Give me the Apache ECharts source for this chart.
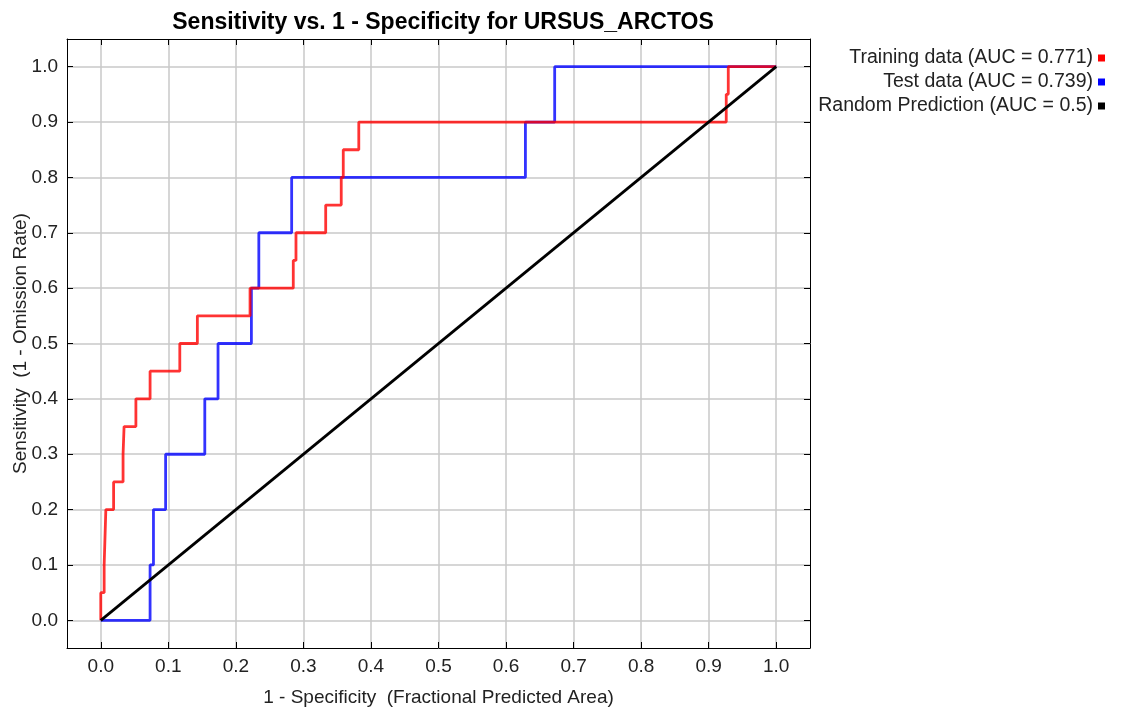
<!DOCTYPE html>
<html>
<head>
<meta charset="utf-8">
<title>Sensitivity vs. 1 - Specificity for URSUS_ARCTOS</title>
<script src="https://cdn.jsdelivr.net/npm/echarts@6.0.0/dist/echarts.min.js"></script>
<style>
  html, body { margin: 0; padding: 0; background: #fff; }
  #chart { width: 1123px; height: 707px; }
</style>
</head>
<body>
<div id="chart"></div>
<script>
// ROC curve points (x = 1 - specificity, y = sensitivity)
const trainFpr = [0, 0, 0.005, 0.005, 0.0075, 0.0075, 0.019, 0.019, 0.033, 0.033, 0.0345, 0.0345,
  0.052, 0.052, 0.073, 0.073, 0.117, 0.117, 0.143, 0.143, 0.221, 0.221, 0.285, 0.285, 0.289, 0.289,
  0.333, 0.333, 0.356, 0.356, 0.359, 0.359, 0.382, 0.382, 0.926, 0.926, 0.929, 0.929, 1.0];
const trainTpr = [0, 0.05, 0.05, 0.1, 0.1, 0.2, 0.2, 0.25, 0.25, 0.3, 0.3, 0.35,
  0.35, 0.4, 0.4, 0.45, 0.45, 0.5, 0.5, 0.55, 0.55, 0.6, 0.6, 0.65, 0.65, 0.7,
  0.7, 0.75, 0.75, 0.8, 0.8, 0.85, 0.85, 0.9, 0.9, 0.95, 0.95, 1.0, 1.0];

const testFpr = [0, 0.073, 0.073, 0.078, 0.078, 0.096, 0.096, 0.154, 0.154, 0.1736, 0.1736,
  0.223, 0.223, 0.234, 0.234, 0.2826, 0.2826, 0.6287, 0.6287, 0.672, 0.672, 1.0];
const testTpr = [0, 0, 0.1, 0.1, 0.2, 0.2, 0.3, 0.3, 0.4, 0.4, 0.5,
  0.5, 0.6, 0.6, 0.7, 0.7, 0.8, 0.8, 0.9, 0.9, 1.0, 1.0];

const randomFpr = [0, 1];
const randomTpr = [0, 1];

const seriesNames = [
  "Training data (AUC = 0.771)",
  "Test data (AUC = 0.739)",
  "Random Prediction (AUC = 0.5)",
];
const tickValues = [0, 0.1, 0.2, 0.3, 0.4, 0.5, 0.6, 0.7, 0.8, 0.9, 1.0];

const zip = (xs, ys) => xs.map((x, i) => [x, ys[i]]);

const font = "'Liberation Sans', Arial, sans-serif";

function valueAxis(position, withLabels, name) {
  return {
    type: "value",
    position: position,
    min: -0.05,
    max: 1.05,
    name: withLabels ? name : "",
    nameLocation: "middle",
    nameGap: position === "bottom" ? 40 : 37,
    nameMoveOverlap: false,
    nameTextStyle: { fontFamily: font, fontSize: 19, color: "#222" },
    axisLine: { show: true, onZero: false, lineStyle: { color: "#000", width: 1 } },
    axisTick: {
      show: true,
      inside: true,
      length: 6,
      customValues: tickValues,
      lineStyle: { color: "#000", width: 1 },
    },
    axisLabel: {
      show: withLabels,
      customValues: tickValues,
      formatter: (v) => v.toFixed(1),
      fontFamily: font,
      fontSize: 19,
      color: "#222",
      margin: 9,
    },
    splitLine: {
      show: withLabels,
      lineStyle: { color: "#c8c8c8", width: 1.5 },
    },
  };
}

const chart = echarts.init(document.getElementById("chart"), null, { renderer: "canvas" });

chart.setOption({
  animation: false,
  backgroundColor: "#fff",
  title: {
    text: "Sensitivity vs. 1 - Specificity for URSUS_ARCTOS",
    left: 438,
    top: 6,
    textAlign: "center",
    textStyle: { fontFamily: font, fontSize: 23, fontWeight: "bold", color: "#000" },
  },
  legend: {
    orient: "vertical",
    right: 13,
    top: 43,
    align: "right",
    icon: "rect",
    itemWidth: 7,
    itemHeight: 7,
    itemGap: 4,
    textStyle: { fontFamily: font, fontSize: 19.5, color: "#222" },
    data: seriesNames,
  },
  grid: { left: 67, right: 313, top: 39, bottom: 59, containLabel: false, outerBoundsMode: "none" },
  xAxis: [
    valueAxis("bottom", true, "1 - Specificity  (Fractional Predicted Area)"),
    valueAxis("top", false, ""),
  ],
  yAxis: [
    valueAxis("left", true, "Sensitivity  (1 - Omission Rate)"),
    valueAxis("right", false, ""),
  ],
  series: [
    {
      name: seriesNames[0],
      type: "line",
      data: zip(trainFpr, trainTpr),
      showSymbol: false,
      z: 3,
      itemStyle: { color: "#ff0000" },
      lineStyle: { color: "#ff0000", width: 2.8, opacity: 0.8 },
    },
    {
      name: seriesNames[1],
      type: "line",
      data: zip(testFpr, testTpr),
      showSymbol: false,
      z: 2,
      itemStyle: { color: "#0000ff" },
      lineStyle: { color: "#0000ff", width: 2.8, opacity: 0.8 },
    },
    {
      name: seriesNames[2],
      type: "line",
      data: zip(randomFpr, randomTpr),
      showSymbol: false,
      z: 4,
      itemStyle: { color: "#000" },
      lineStyle: { color: "#000", width: 2.8 },
    },
  ],
});
</script>
</body>
</html>
